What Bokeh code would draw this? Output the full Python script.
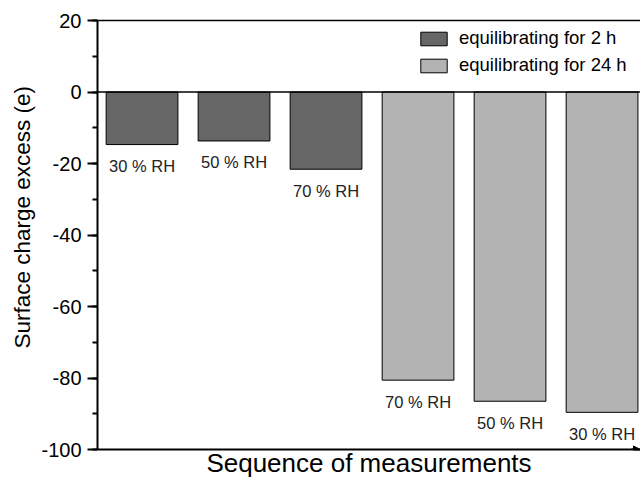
from bokeh.plotting import figure
from bokeh.models import (Range1d, SingleIntervalTicker, LinearAxis, FixedTicker, Span,
                          Arrow, NormalHead, Legend, LegendItem, Title)
from bokeh.core.properties import value
from bokeh.embed import file_html
from bokeh.resources import INLINE

positions_2h = [1, 2, 3]
positions_24h = [4, 5, 6]
charge_2h = [-14.7, -13.7, -21.6]
charge_24h = [-80.6, -86.5, -89.6]
rh_labels_2h = ["30 % RH", "50 % RH", "70 % RH"]
rh_labels_24h = ["70 % RH", "50 % RH", "30 % RH"]
series_names = ["equilibrating for 2 h", "equilibrating for 24 h"]
y_tick_values = [20, 0, -20, -40, -60, -80, -100]
x_title = "Sequence of measurements"
y_title = "Surface charge excess (e)"

FONT = "Liberation Sans"
X_MIN, X_MAX = 0.516, 6.418
Y_MIN, Y_MAX = -100, 20

p = figure(width=640, height=481, output_backend="svg", toolbar_location=None,
           x_range=Range1d(X_MIN, X_MAX), y_range=Range1d(Y_MIN, Y_MAX),
           min_border_left=97, min_border_right=0, min_border_top=20, min_border_bottom=32)
p.outline_line_color = None
p.grid.visible = False
p.background_fill_color = "white"
p.border_fill_color = "white"

# y axis
ya = p.yaxis[0]
ya.ticker = SingleIntervalTicker(interval=20, num_minor_ticks=2)
ya.major_label_overrides = {v: str(v) for v in y_tick_values}
ya.axis_line_width = 2
ya.major_tick_line_width = 2
ya.minor_tick_line_width = 2
ya.major_tick_out = 10
ya.major_tick_in = 0
ya.minor_tick_out = 5
ya.minor_tick_in = 0
ya.major_label_standoff = 6
ya.major_label_text_font = FONT
ya.major_label_text_font_size = "20px"
ya.major_label_text_color = "black"

# y title (placed a little above the axis centre, like the reference)
p.add_layout(Title(text=y_title, align="left", offset=101, standoff=8,
                   text_font=FONT, text_font_size="22.5px",
                   text_font_style="normal", text_color="black"), "left")

# x axis
xa = p.xaxis[0]
xa.ticker = FixedTicker(ticks=[])
xa.axis_line_width = 2
xa.major_tick_line_color = None
xa.minor_tick_line_color = None
xa.major_label_text_font_size = "0px"
xa.major_label_standoff = 0
xa.axis_label = x_title
xa.axis_label_text_font = FONT
xa.axis_label_text_font_size = "26px"
xa.axis_label_text_font_style = "normal"
xa.axis_label_text_color = "black"
xa.axis_label_standoff = -2

# top frame line
top_axis = LinearAxis(ticker=FixedTicker(ticks=[]), major_label_text_font_size="0px",
                      major_tick_line_color=None, minor_tick_line_color=None,
                      axis_line_width=1.5, major_label_standoff=0)
p.add_layout(top_axis, "above")

# zero line
p.add_layout(Span(location=0, dimension="width", line_color="black", line_width=1.5))

# bars
r1 = p.vbar(x=positions_2h, width=0.78, top=0, bottom=charge_2h,
            fill_color="#666666", line_color="black", line_width=1)
r2 = p.vbar(x=positions_24h, width=0.78, top=0, bottom=charge_24h,
            fill_color="#b3b3b3", line_color="black", line_width=1)

# labels under bars
p.text(x=positions_2h + positions_24h, y=charge_2h + charge_24h,
       text=rh_labels_2h + rh_labels_24h, text_align="center",
       text_baseline="alphabetic", y_offset=21.5,
       text_font=value(FONT), text_font_size="16.5px", text_color="#222222")

# arrow on x axis
p.add_layout(Arrow(end=NormalHead(size=7, fill_color="black", line_color="black"),
                   x_start=X_MAX - 0.1, y_start=Y_MIN, x_end=X_MAX, y_end=Y_MIN,
                   line_width=2, line_color="black"))

legend = Legend(items=[LegendItem(label=series_names[0], renderers=[r1]),
                       LegendItem(label=series_names[1], renderers=[r2])],
                location=(320, 373), glyph_width=33, glyph_height=17,
                label_standoff=9, padding=0, margin=0, spacing=5,
                border_line_color=None, background_fill_alpha=0,
                label_text_font=FONT, label_text_font_size="18.5px",
                label_text_color="black")
p.add_layout(legend)

open("out.html", "w").write(file_html(p, INLINE))
